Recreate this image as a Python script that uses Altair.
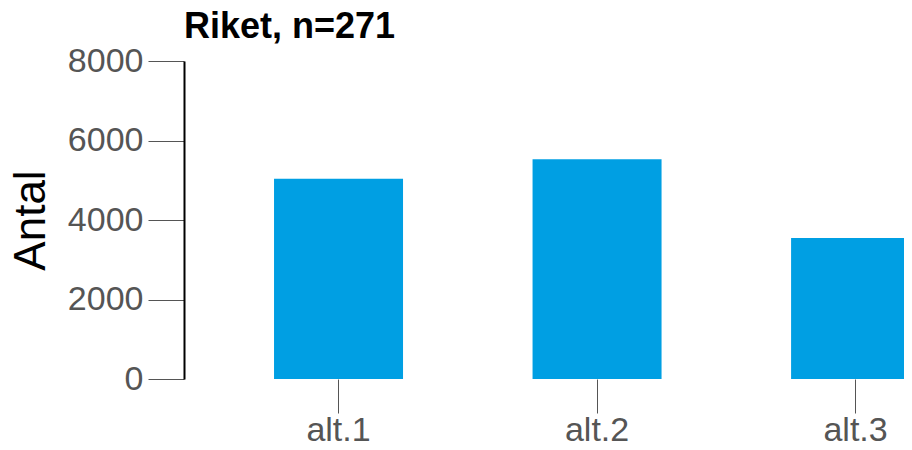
import altair as alt
import pandas as pd

categories = ["alt.1", "alt.2", "alt.3"]
values = [5040, 5530, 3550]
y_ticks = [0, 2000, 4000, 6000, 8000]

df = pd.DataFrame({"kategori": categories, "antal": values})

FONT = "Liberation Sans"

chart = alt.Chart(df).mark_bar(color="#009FE3", clip=True, width=129).encode(
    x=alt.X(
        "kategori:N",
        sort=categories,
        scale=alt.Scale(paddingInner=0.9, paddingOuter=0.3425, align=0.7996),
        axis=alt.Axis(
            title=None, domain=False, labelAngle=0, tickSize=34, tickColor="#555555",
            tickWidth=1, labelFontSize=34, labelColor="#555555", labelFont=FONT,
            labelPadding=0,
        ),
    ),
    y=alt.Y(
        "antal:Q",
        scale=alt.Scale(domain=[0, 8000]),
        axis=alt.Axis(
            title="Antal", values=y_ticks, format="d", grid=False, domainColor="black",
            domainWidth=2, tickSize=36, tickColor="#555555", tickWidth=1, labelFontSize=34,
            labelColor="#555555", labelFont=FONT, labelPadding=5,
            titleFontSize=44, titleFont=FONT, titleFontWeight="normal", titleColor="black",
            titlePadding=14,
        ),
    ),
).properties(
    width=720,
    height=318,
    padding={"left": 1, "top": 1, "right": 0, "bottom": 0},
    title=alt.TitleParams(
        "Riket, n=271", anchor="start", frame="group", fontSize=36, font=FONT,
        fontWeight="bold", color="black", offset=-2,
    ),
).configure_view(stroke=None)

chart.save("out.html", embed_options={"renderer": "svg", "actions": False})
